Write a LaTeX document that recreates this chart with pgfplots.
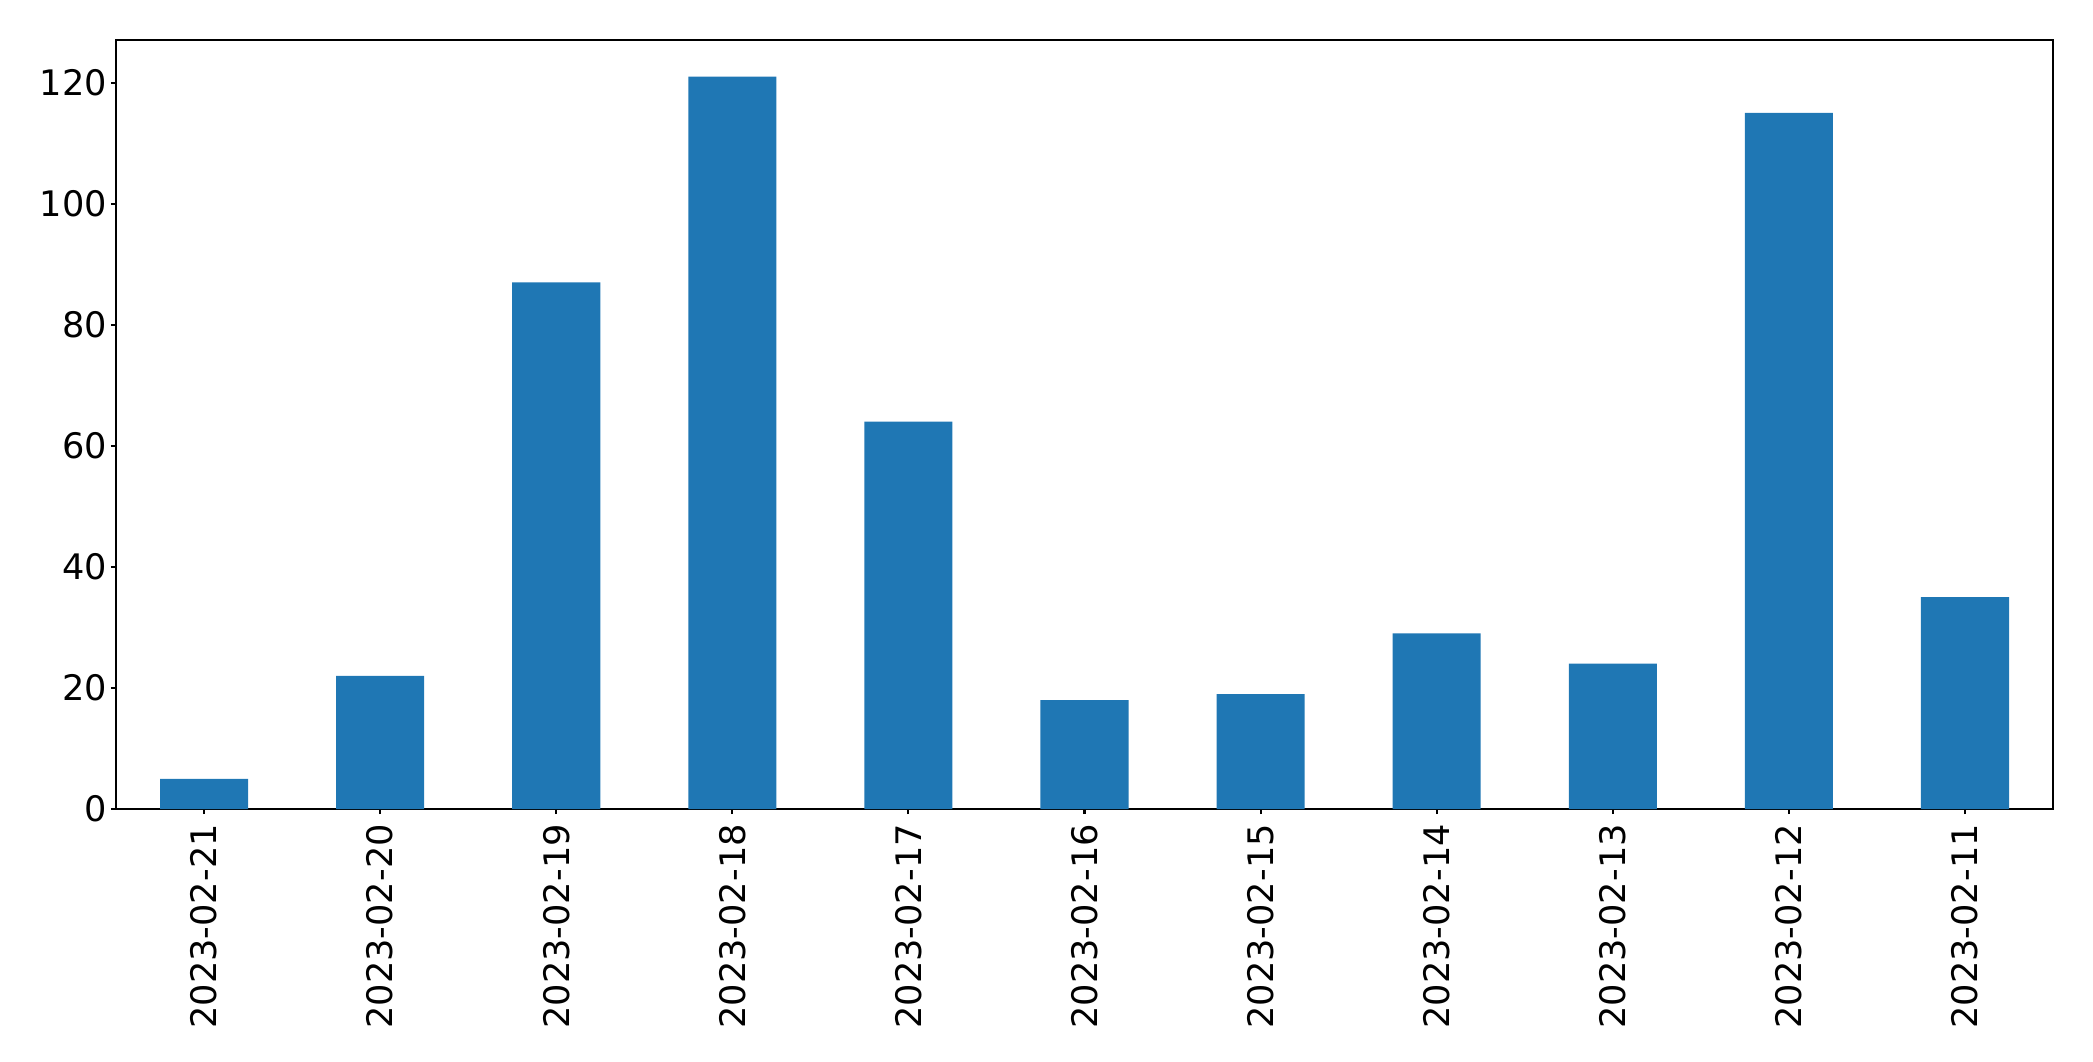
\documentclass[border=0pt]{standalone}
\usepackage{pgfplots}
\pgfplotsset{compat=1.18}
\usepackage{fontspec}
\setmainfont{DejaVu Sans}
\definecolor{mplblue}{HTML}{1F77B4}
\begin{document}
\begin{tikzpicture}
\begin{axis}[
  scale only axis,
  width=193.7mm, height=76.9mm,
  xmin=-0.5, xmax=10.5,
  ymin=0, ymax=127.05,
  xtick={0,...,10},
  xticklabels={2023-02-21,2023-02-20,2023-02-19,2023-02-18,2023-02-17,2023-02-16,2023-02-15,2023-02-14,2023-02-13,2023-02-12,2023-02-11},
  ytick={0,20,40,60,80,100,120},
  x tick label style={rotate=90, anchor=east, font=\fontsize{10}{12}\selectfont, inner xsep=2.7pt, inner ysep=0pt},
  y tick label style={font=\fontsize{10}{12}\selectfont, inner xsep=1pt},
  /pgf/number format/assume math mode=true,
  tick align=outside,
  major tick length=0.5mm,
  xtick pos=bottom, ytick pos=left,
  axis line style={line width=0.6pt},
  tick style={line width=0.6pt, black},
]
\addplot[ybar, bar width=0.5, fill=mplblue, draw=none] coordinates {
(0,5) (1,22) (2,87) (3,121) (4,64) (5,18) (6,19) (7,29) (8,24) (9,115) (10,35)
};
\end{axis}
\pgfresetboundingbox
\path (current axis.south west) ++(-11.6mm,-25.2mm) coordinate (bl);
\path (current axis.north east) ++(4mm,4mm) coordinate (tr);
\path[use as bounding box] (bl) rectangle (tr);
\end{tikzpicture}
\end{document}
